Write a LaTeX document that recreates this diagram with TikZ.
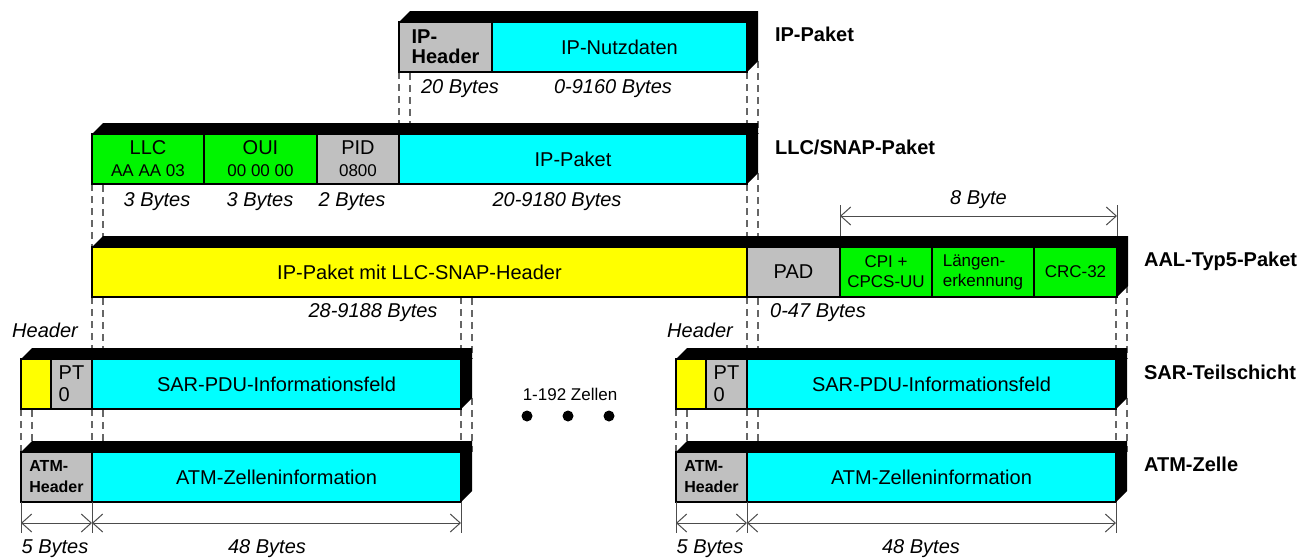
\documentclass[tikz,border=0pt]{standalone}
\usepackage{fontspec}
\setmainfont{Liberation Sans}
\usepackage{tikz}
\usetikzlibrary{positioning,arrows.meta,backgrounds}
\definecolor{atmcyan}{RGB}{0,255,255}
\definecolor{atmgreen}{RGB}{0,245,0}
\definecolor{atmyellow}{RGB}{255,255,0}
\definecolor{atmgray}{RGB}{192,192,192}
\newcommand{\klein}{\fontsize{8.5}{10}\selectfont}

\begin{document}
\begin{tikzpicture}[x=0.5pt,y=-0.5pt,
        cell/.style={draw,line width=0.7pt,fill=atmcyan,minimum height=25pt,
                     inner sep=0pt,outer sep=0pt,align=center,
                     font=\fontsize{10}{10}\selectfont},
        bytes/.style={anchor=base,font=\itshape,text=black},
        layer/.style={anchor=base west,font=\bfseries},
        guide/.style={black!60,line width=0.6pt,dash pattern=on 3.5pt off 2.5pt},
        ext/.style={black!70,line width=0.5pt},
        dim/.style={{Straight Barb[length=5pt,width=9pt]}-{Straight Barb[length=5pt,width=9pt]},
                    black!70,line width=0.5pt}]
  \useasboundingbox (0,0) rectangle (1311,558);

  % IP-Paket
  \node[cell,fill=atmgray,minimum width=46.5pt,anchor=north west,align=left,
        font=\bfseries\fontsize{10}{10}\selectfont] (iphdr) at (399,22) {IP-\\Header};
  \node[cell,minimum width=127.5pt,right=0pt of iphdr] (ipnutz) {IP-Nutzdaten};

  % LLC/SNAP-Paket
  \node[cell,fill=atmgreen,minimum width=56pt,anchor=north west] (llc) at (92,134)
    {LLC\\[1pt]{\klein AA AA 03}};
  \node[cell,fill=atmgreen,minimum width=56.5pt,right=0pt of llc] (oui)
    {OUI\\[1pt]{\klein 00 00 00}};
  \node[cell,fill=atmgray,minimum width=41pt,right=0pt of oui] (pid)
    {PID\\[1pt]{\klein 0800}};
  \node[cell,minimum width=174pt,right=0pt of pid] (llcip) {IP-Paket};

  % AAL-Typ5-Paket
  \node[cell,fill=atmyellow,minimum width=327.5pt,anchor=north west] (aalip) at (92,247)
    {IP-Paket mit LLC-SNAP-Header};
  \node[cell,fill=atmgray,minimum width=46.5pt,right=0pt of aalip] (pad) {PAD};
  \node[cell,fill=atmgreen,minimum width=46pt,right=0pt of pad,font=\klein] (cpi)
    {CPI +\\CPCS-UU};
  \node[cell,fill=atmgreen,minimum width=51pt,right=0pt of cpi,font=\klein,align=left] (laenge)
    {Längen-\\erkennung};
  \node[cell,fill=atmgreen,minimum width=41.5pt,right=0pt of laenge,font=\klein] (crc) {CRC-32};

  % SAR-Teilschicht
  \node[cell,fill=atmyellow,minimum width=15pt,anchor=north west] (sarhl) at (21,359) {};
  \node[cell,fill=atmgray,minimum width=20.5pt,right=0pt of sarhl,align=left] (ptl) {PT\\[1pt]0};
  \node[cell,minimum width=184.5pt,right=0pt of ptl] (sarinfl) {SAR-PDU-Informationsfeld};
  \node[cell,fill=atmyellow,minimum width=15pt,anchor=north west] (sarhr) at (676,359) {};
  \node[cell,fill=atmgray,minimum width=20.5pt,right=0pt of sarhr,align=left] (ptr) {PT\\[1pt]0};
  \node[cell,minimum width=184.5pt,right=0pt of ptr] (sarinfr) {SAR-PDU-Informationsfeld};

  % ATM-Zelle
  \node[cell,fill=atmgray,minimum width=35.5pt,anchor=north west,align=left,
        font=\bfseries\fontsize{8}{10.5}\selectfont] (atmhl) at (21,452) {ATM-\\Header};
  \node[cell,minimum width=184.5pt,right=0pt of atmhl] (atminfl) {ATM-Zelleninformation};
  \node[cell,fill=atmgray,minimum width=35.5pt,anchor=north west,align=left,
        font=\bfseries\fontsize{8}{10.5}\selectfont] (atmhr) at (676,452) {ATM-\\Header};
  \node[cell,minimum width=184.5pt,right=0pt of atmhr] (atminfr) {ATM-Zelleninformation};

  % black top and side of every packet
  \foreach \first/\last in {iphdr/ipnutz,llc/llcip,aalip/crc,sarhl/sarinfl,
                            sarhr/sarinfr,atmhl/atminfl,atmhr/atminfr}
    \fill (\first.north west) -- ++(11,-11) -- ([shift={(11,-11)}]\last.north east)
          -- ([shift={(11,-11)}]\last.south east) -- (\last.south east)
          -- (\last.north east) -- cycle;

  % dashed guides between the layers
  \begin{scope}[on background layer]
    \foreach \nlow/\nup in {llcip.north west/iphdr,llcip.north east/ipnutz,
        aalip.north west/llc,aalip.north east/llcip,
        sarinfl.north west/aalip,sarinfl.north east/aalip,
        sarinfr.north west/pad,sarinfr.north east/crc,
        atmhl.north west/sarhl,atminfl.north west/sarinfl,atminfl.north east/sarinfl,
        atmhr.north west/sarhr,atminfr.north west/sarinfr,atminfr.north east/sarinfr}
    {
      \draw[guide] (\nlow |- \nup.south) -- (\nlow);
      \draw[guide] ([shift={(11,-11)}]\nlow |- \nup.south) -- ([xshift=5.5pt]\nlow);
    }
  \end{scope}

  % byte counts
  \node[bytes] (b20) at (460,93) {20 Bytes};
  \node[bytes] (b9160) at (613,93) {0-9160 Bytes};
  \node[bytes] (b3a) at (157,206) {3 Bytes};
  \node[bytes] (b3b) at (260,206) {3 Bytes};
  \node[bytes] (b2) at (352,206) {2 Bytes};
  \node[bytes] (b9180) at (557,206) {20-9180 Bytes};
  \node[bytes] (b9188) at (373,317) {28-9188 Bytes};
  \node[bytes] (b47) at (818,317) {0-47 Bytes};
  \node[bytes] (hdrl) at (45,337) {Header};
  \node[bytes] (hdrr) at (700,337) {Header};

  % 8 Byte trailer
  \draw[ext] ([yshift=5.5pt]cpi.north west) -- ([yshift=21pt]cpi.north west);
  \draw[ext] ([yshift=5.5pt]crc.north east) -- ([yshift=21pt]crc.north east);
  \draw[dim] ([yshift=15.5pt]cpi.north west) -- node[above,font=\itshape,text=black] (b8) {8 Byte}
             ([yshift=15.5pt]crc.north east);

  % cell sizes
  \foreach \hdr/\inf in {atmhl/atminfl,atmhr/atminfr}
  {
    \draw[ext] (\hdr.south west) -- ([yshift=-15.5pt]\hdr.south west);
    \draw[ext] (\hdr.south east) -- ([yshift=-15.5pt]\hdr.south east);
    \draw[ext] (\inf.south east) -- ([yshift=-15.5pt]\inf.south east);
    \draw[dim] ([yshift=-10.5pt]\hdr.south west) -- ([yshift=-10.5pt]\hdr.south east);
    \draw[dim] ([yshift=-10.5pt]\inf.south west) -- ([yshift=-10.5pt]\inf.south east);
  }
  \node[bytes] (b5l) at (55,553) {5 Bytes};
  \node[bytes] (b48l) at (267,553) {48 Bytes};
  \node[bytes] (b5r) at (710,553) {5 Bytes};
  \node[bytes] (b48r) at (921,553) {48 Bytes};

  % cells in between
  \node[anchor=base,font=\klein] (zellen) at (570,400) {1-192 Zellen};
  \foreach \x in {527,568,609}
    \fill (\x,416) circle[radius=2.75pt];

  % layer names
  \node[layer] (lip) at (768,41) {IP-Paket};
  \node[layer] (lllc) at (768,154) {LLC/SNAP-Paket};
  \node[layer] (laal) at (1137,266) {AAL-Typ5-Paket};
  \node[layer] (lsar) at (1137,379) {SAR-Teilschicht};
  \node[layer] (latm) at (1137,471) {ATM-Zelle};
\end{tikzpicture}
\end{document}
